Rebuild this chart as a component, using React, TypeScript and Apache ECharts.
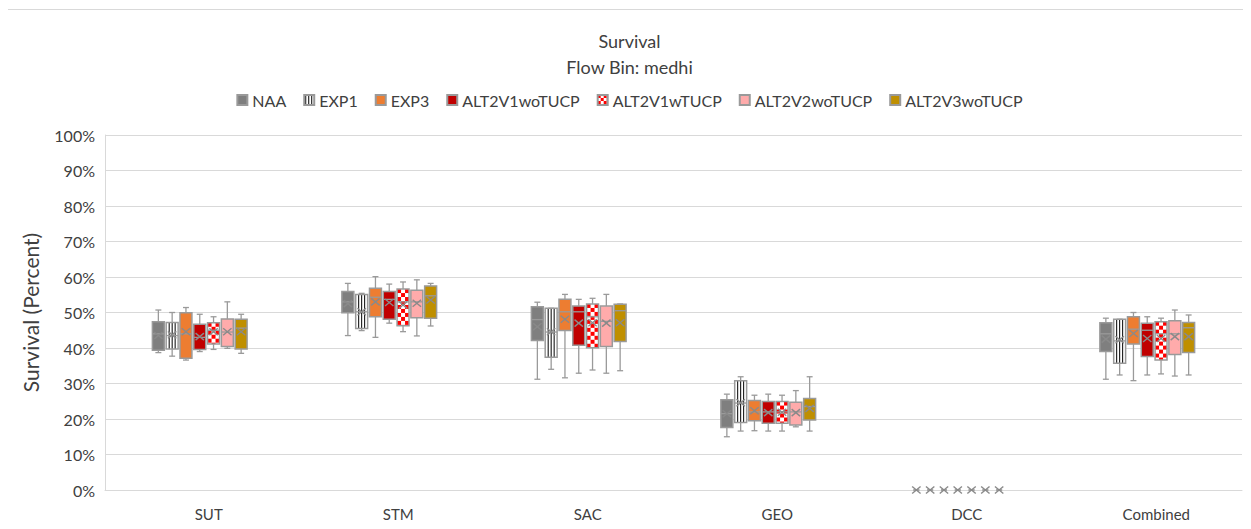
import React, { useEffect, useRef } from "react";
import * as echarts from "echarts";

const categories = ["SUT", "STM", "SAC", "GEO", "DCC", "Combined"];
const seriesNames = [
  "NAA",
  "EXP1",
  "EXP3",
  "ALT2V1woTUCP",
  "ALT2V1wTUCP",
  "ALT2V2woTUCP",
  "ALT2V3woTUCP",
];
const yTicks = [0, 10, 20, 30, 40, 50, 60, 70, 80, 90, 100];

// [min, Q1, median, Q3, max] per category (percent)
const naaBox = [
  [38.7, 39.4, 44.0, 47.4, 50.7],
  [43.5, 49.9, 53.0, 55.9, 58.2],
  [31.2, 42.1, 48.0, 51.6, 52.9],
  [15.0, 17.6, 21.5, 25.4, 27.0],
  [0, 0, 0, 0, 0],
  [31.2, 39.0, 44.0, 47.1, 48.4],
];
const naaMean = [43.5, 52.5, 46.0, 21.5, 0, 42.5];

const exp1Box = [
  [37.7, 39.7, 43.5, 47.2, 50.0],
  [44.9, 45.5, 50.2, 55.1, 55.4],
  [34.0, 37.4, 44.5, 51.2, 51.2],
  [16.6, 19.0, 24.5, 30.8, 31.9],
  [0, 0, 0, 0, 0],
  [32.4, 35.7, 42.0, 48.1, 48.1],
];
const exp1Mean = [43.7, 50.2, 44.6, 24.6, 0, 42.3];

const exp3Box = [
  [36.6, 37.1, 44.0, 49.9, 51.4],
  [43.0, 48.8, 54.3, 56.8, 60.1],
  [31.6, 44.9, 50.2, 53.7, 55.1],
  [16.7, 19.5, 22.0, 25.2, 26.7],
  [0, 0, 0, 0, 0],
  [30.8, 41.1, 45.3, 48.8, 50.0],
];
const exp3Mean = [44.6, 53.0, 48.1, 22.3, 0, 44.1];

const alt2v1woBox = [
  [39.0, 39.6, 43.0, 46.7, 49.5],
  [47.0, 48.1, 53.7, 55.9, 58.0],
  [32.9, 40.8, 50.2, 51.8, 53.7],
  [16.6, 18.8, 22.0, 24.9, 27.0],
  [0, 0, 0, 0, 0],
  [32.4, 37.6, 45.0, 47.0, 48.8],
];
const alt2v1woMean = [43.2, 52.8, 47.0, 21.8, 0, 42.7];

const alt2v1wBox = [
  [39.6, 41.1, 45.0, 47.1, 48.8],
  [44.6, 46.3, 53.0, 56.6, 58.6],
  [33.8, 40.1, 48.8, 52.4, 54.0],
  [16.6, 18.8, 22.0, 24.9, 26.7],
  [0, 0, 0, 0, 0],
  [32.7, 36.6, 44.0, 47.4, 48.4],
];
const alt2v1wMean = [44.6, 52.1, 47.1, 21.9, 0, 42.7];

const alt2v2woBox = [
  [39.9, 40.4, 44.5, 48.2, 53.0],
  [43.4, 48.5, 53.0, 56.3, 59.2],
  [32.9, 40.4, 47.5, 51.8, 55.1],
  [17.8, 18.3, 22.0, 24.7, 28.0],
  [0, 0, 0, 0, 0],
  [32.1, 38.2, 44.0, 47.7, 50.7],
];
const alt2v2woMean = [44.6, 52.6, 47.0, 21.8, 0, 43.2];

const alt2v3woBox = [
  [38.5, 39.7, 45.6, 48.1, 49.5],
  [46.2, 48.4, 54.7, 57.5, 58.2],
  [33.6, 41.8, 50.5, 52.3, 52.4],
  [16.6, 19.7, 23.5, 25.8, 31.9],
  [0, 0, 0, 0, 0],
  [32.4, 38.7, 45.7, 47.2, 49.3],
];
const alt2v3woMean = [44.6, 53.5, 47.1, 23.0, 0, 43.2];

const allBoxes = [naaBox, exp1Box, exp3Box, alt2v1woBox, alt2v1wBox, alt2v2woBox, alt2v3woBox];
const allMeans = [naaMean, exp1Mean, exp3Mean, alt2v1woMean, alt2v1wMean, alt2v2woMean, alt2v3woMean];

const fills = ["#7f7f7f", "#ffffff", "#ed7d31", "#c00000", "#ffffff", "#ffabab", "#bf8f00"];
const patterns = ["none", "stripes", "none", "none", "checker", "none", "none"];

const FONT = "Lato, 'Open Sans', sans-serif";
const TEXT = "#404040";
const EDGE = "#9a9a9a";

function makePattern(kind: string): any {
  const c = document.createElement("canvas");
  if (kind === "stripes") {
    c.width = 3;
    c.height = 3;
    const g = c.getContext("2d")!;
    g.fillStyle = "#ffffff";
    g.fillRect(0, 0, 3, 3);
    g.fillStyle = "#000000";
    g.fillRect(1, 0, 1, 3);
  } else {
    c.width = 6;
    c.height = 6;
    const g = c.getContext("2d")!;
    g.fillStyle = "#ffffff";
    g.fillRect(0, 0, 6, 6);
    g.fillStyle = "#ff0000";
    g.fillRect(0, 0, 3, 3);
    g.fillRect(3, 3, 3, 3);
  }
  return { image: c, repeat: "repeat", imageWidth: c.width, imageHeight: c.height };
}

function makeRender(si: number) {
  return (params: any, api: any) => {
    const ci = api.value(0);
    const band = api.size([1, 0])[0];
    const step = band * 0.0728;
    const bw = band * 0.063;
    const base = api.coord([ci, 0]);
    const cx = base[0] + (si - 3) * step;
    const y = (v: number) => api.coord([ci, v])[1];
    const yMin = y(api.value(1));
    const yQ1 = y(api.value(2));
    const yMed = y(api.value(3));
    const yQ3 = y(api.value(4));
    const yMax = y(api.value(5));
    const yMean = y(api.value(6));
    const ls = { stroke: EDGE, lineWidth: 1.3, fill: "none" };
    const x0 = cx - bw / 2;
    const cap = bw * 0.25;
    const ch: any[] = [];
    ch.push({ type: "line", shape: { x1: cx, y1: yMax, x2: cx, y2: yQ3 }, style: ls });
    ch.push({ type: "line", shape: { x1: cx, y1: yQ1, x2: cx, y2: yMin }, style: ls });
    ch.push({ type: "line", shape: { x1: cx - cap, y1: yMax, x2: cx + cap, y2: yMax }, style: ls });
    ch.push({ type: "line", shape: { x1: cx - cap, y1: yMin, x2: cx + cap, y2: yMin }, style: ls });
    const h = yQ1 - yQ3;
    if (h > 0.5) {
      ch.push({ type: "rect", shape: { x: x0, y: yQ3, width: bw, height: h }, style: { fill: fills[si] } });
      if (patterns[si] === "stripes") {
        [-bw / 4, 0, bw / 4].forEach((dx) => {
          ch.push({
            type: "line",
            shape: { x1: cx + dx, y1: yQ3, x2: cx + dx, y2: yQ1 },
            style: { stroke: "#000000", lineWidth: 1 },
          });
        });
      } else if (patterns[si] === "checker") {
        const cell = bw / 3;
        const rows = Math.ceil(h / cell);
        for (let r = 0; r < rows; r++) {
          for (let c = 0; c < 3; c++) {
            if ((r + c) % 2 === 0) {
              const top = yQ3 + r * cell;
              const hh = Math.min(cell, yQ1 - top);
              ch.push({
                type: "rect",
                shape: { x: x0 + c * cell, y: top, width: cell, height: hh },
                style: { fill: "#ff0000" },
              });
            }
          }
        }
      }
      ch.push({ type: "line", shape: { x1: x0, y1: yMed, x2: x0 + bw, y2: yMed }, style: ls });
      ch.push({
        type: "rect",
        shape: { x: x0, y: yQ3, width: bw, height: h },
        style: { fill: "none", stroke: EDGE, lineWidth: 1.5 },
      });
    }
    const mx = 4.2;
    const my = 3.5;
    const xs = { stroke: "#8a8a8a", lineWidth: 1.4 };
    ch.push({ type: "line", shape: { x1: cx - mx, y1: yMean - my, x2: cx + mx, y2: yMean + my }, style: xs });
    ch.push({ type: "line", shape: { x1: cx - mx, y1: yMean + my, x2: cx + mx, y2: yMean - my }, style: xs });
    return { type: "group", children: ch };
  };
}

export default function App() {
  const ref = useRef<HTMLDivElement>(null);
  useEffect(() => {
    if (!ref.current) return;
    const chart = echarts.init(ref.current, undefined, { renderer: "svg" });
    const series = seriesNames.map((name, si) => {
      const color =
        patterns[si] === "none" ? fills[si] : makePattern(patterns[si]);
      return {
        name,
        type: "custom",
        renderItem: makeRender(si),
        itemStyle: { color, borderColor: EDGE, borderWidth: 1 },
        encode: { x: 0, y: [1, 2, 3, 4, 5, 6] },
        data: categories.map((_, ci) => [ci, ...allBoxes[si][ci], allMeans[si][ci]]),
        z: 3,
      };
    });
    chart.setOption({
      animation: false,
      backgroundColor: "#ffffff",
      textStyle: { fontFamily: FONT },
      title: {
        text: "Survival\nFlow Bin: medhi",
        left: "center",
        top: 15,
        textStyle: {
          fontFamily: FONT,
          fontSize: 18,
          fontWeight: "normal",
          color: TEXT,
          lineHeight: 26,
        },
      },
      legend: {
        data: seriesNames,
        top: 79,
        left: "center",
        icon: "rect",
        itemWidth: 10,
        itemHeight: 10,
        itemGap: 17,
        textStyle: { fontFamily: FONT, fontSize: 16, color: TEXT },
      },
      graphic: [
        {
          type: "rect",
          shape: { x: -0.5, y: 1.5, width: 1400, height: 700 },
          style: { fill: "none", stroke: "#d9d9d9", lineWidth: 1 },
          silent: true,
        },
      ],
      grid: { left: 97, right: 9, top: 127, bottom: 39 },
      xAxis: {
        type: "category",
        data: categories,
        axisTick: { show: false },
        axisLine: { lineStyle: { color: "#d9d9d9" } },
        axisLabel: {
          color: TEXT,
          fontSize: 15,
          fontFamily: FONT,
          margin: 16,
          padding: [0, 0, 0, 18],
        },
      },
      yAxis: {
        type: "value",
        min: yTicks[0],
        max: yTicks[yTicks.length - 1],
        interval: 10,
        name: "Survival (Percent)",
        nameLocation: "middle",
        nameGap: 64,
        nameTextStyle: { color: TEXT, fontSize: 21, fontFamily: FONT },
        axisLine: { show: true, lineStyle: { color: "#d9d9d9" } },
        axisTick: { show: false },
        splitLine: { lineStyle: { color: "#d9d9d9" } },
        axisLabel: {
          color: TEXT,
          fontSize: 16,
          fontFamily: FONT,
          margin: 10,
          formatter: "{value}%",
        },
      },
      series,
    });
    return () => chart.dispose();
  }, []);
  return <div ref={ref} style={{ width: 1243, height: 521 }} />;
}
